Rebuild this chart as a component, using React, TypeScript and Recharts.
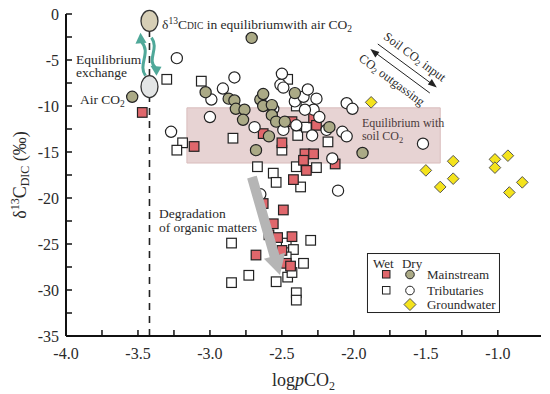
import React from 'react';
import { ScatterChart, Scatter, XAxis, YAxis, ReferenceArea, ReferenceLine, ReferenceDot } from 'recharts';

const FONT = '"Liberation Serif", "Times New Roman", serif';

// [logpCO2, δ13C_DIC]
const mainstreamWet: [number, number][] = [
  [-3.47, -10.7], [-3.11, -14.4], [-2.43, -11.7], [-2.63, -13.0], [-2.5, -14.0], [-2.28, -11.3],
  [-2.26, -12.1], [-2.34, -15.2], [-2.28, -15.2], [-2.35, -15.9], [-2.33, -17.0], [-2.42, -18.0],
  [-2.13, -16.3], [-2.63, -20.6], [-2.49, -21.3], [-2.56, -22.8], [-2.59, -24.0], [-2.53, -24.3],
  [-2.43, -24.2], [-2.5, -25.7], [-2.68, -26.2], [-2.47, -27.1], [-2.44, -27.4],
];
const tributariesWet: [number, number][] = [
  [-3.3, -7.1], [-3.19, -14.0], [-3.23, -14.8], [-3.06, -7.3], [-2.84, -13.5], [-2.46, -7.1],
  [-2.4, -10.0], [-2.39, -13.2], [-2.5, -14.8], [-2.33, -12.3], [-2.18, -13.9], [-2.67, -16.6],
  [-2.56, -17.3], [-2.54, -18.3], [-2.4, -16.6], [-2.26, -16.7], [-2.37, -18.8], [-2.85, -24.9],
  [-2.47, -24.9], [-2.42, -25.6], [-2.47, -26.4], [-2.35, -27.1], [-2.73, -28.4], [-2.85, -29.2],
  [-2.54, -29.1], [-2.46, -28.6], [-2.43, -28.1], [-2.4, -30.3], [-2.4, -31.1], [-2.3, -24.6],
];
const mainstreamDry: [number, number][] = [
  [-3.54, -9.0], [-2.71, -2.6], [-3.03, -8.5], [-2.87, -9.2], [-2.83, -9.4], [-2.82, -10.3],
  [-2.76, -10.4], [-2.77, -11.5], [-2.65, -9.3], [-2.63, -8.7], [-2.63, -10.0], [-2.57, -9.9],
  [-2.57, -11.0], [-2.54, -11.7], [-2.48, -11.7], [-2.59, -13.3], [-2.68, -14.8], [-2.41, -8.6],
  [-2.17, -12.3], [-1.94, -15.1],
];
const tributariesDry: [number, number][] = [
  [-3.23, -4.8], [-3.27, -12.8], [-2.83, -6.9], [-2.91, -8.1], [-2.99, -9.3], [-3.0, -11.2],
  [-2.69, -12.3], [-2.56, -10.3], [-2.5, -6.5], [-2.51, -7.7], [-2.49, -8.0], [-2.41, -9.5],
  [-2.35, -9.0], [-2.32, -8.2], [-2.26, -9.2], [-2.28, -10.4], [-2.34, -10.4], [-2.24, -11.2],
  [-2.4, -12.1], [-2.49, -12.6], [-2.29, -13.2], [-2.19, -12.6], [-2.08, -12.8], [-2.05, -13.3],
  [-2.05, -9.7], [-2.01, -10.3], [-2.15, -15.7], [-2.11, -19.2], [-2.65, -19.6], [-1.52, -14.1],
];
const groundwater: [number, number][] = [
  [-1.88, -9.6], [-1.5, -17.0], [-1.31, -16.0], [-1.31, -17.9], [-1.4, -18.8], [-1.02, -15.8],
  [-1.02, -16.7], [-0.93, -15.4], [-0.83, -18.3], [-0.92, -19.4],
];

const xTicks = [-4, -3.75, -3.5, -3.25, -3, -2.75, -2.5, -2.25, -2, -1.75, -1.5, -1.25, -1];
const yTicks = [-35, -32.5, -30, -27.5, -25, -22.5, -20, -17.5, -15, -12.5, -10, -7.5, -5, -2.5, 0];
const xDomain = [-4, -0.7];
const yDomain = [-35, 0];

const legendHeader = ['Wet', 'Dry'];
const legendRows = ['Mainstream', 'Tributaries', 'Groundwater'];

const airCO2 = -3.42;
const soilBox = { x1: -3.16, x2: -1.4, y1: -16.2, y2: -10.2 };

const COLORS = {
  red: '#e0676c',
  olive: '#abaa86',
  yellow: '#f4e31c',
  teal: '#4fa899',
  pink: '#e7d3d3',
  text: '#2a2a2a',
};

const toPts = (a: [number, number][]) => a.map(([x, y]) => ({ x, y }));

const squareShape = (fill: string) => (p: any) => (
  <rect x={p.cx - 4.8} y={p.cy - 4.8} width={9.6} height={9.6} fill={fill} stroke="#222" strokeWidth={1.2} />
);
const circleShape = (fill: string) => (p: any) => (
  <circle cx={p.cx} cy={p.cy} r={5.6} fill={fill} stroke="#222" strokeWidth={1.2} />
);
const diamondShape = (p: any) => (
  <polygon
    points={`${p.cx},${p.cy - 5.8} ${p.cx + 5.8},${p.cy} ${p.cx},${p.cy + 5.8} ${p.cx - 5.8},${p.cy}`}
    fill={COLORS.yellow}
    stroke="#555"
    strokeWidth={1}
  />
);

const XLabel = (props: any) => {
  const vb = props.viewBox || { x: 66, y: 336, width: 475, height: 58 };
  return (
    <text x={vb.x + vb.width / 2} y={vb.y + 50} textAnchor="middle" fontFamily={FONT} fontSize={18} fill={COLORS.text}>
      log<tspan fontStyle="italic">p</tspan>CO<tspan dy={4} fontSize={12}>2</tspan>
    </text>
  );
};

const YLabel = (props: any) => {
  const vb = props.viewBox || { x: 0, y: 14, width: 66, height: 322 };
  const cx = vb.x + 26;
  const cy = vb.y + vb.height / 2;
  return (
    <text x={cx} y={cy} transform={`rotate(-90, ${cx}, ${cy})`} textAnchor="middle" fontFamily={FONT} fontSize={18} fill={COLORS.text}>
      δ<tspan dy={-7} fontSize={12}>13</tspan><tspan dy={7}>C</tspan><tspan dy={3} fontSize={12}>DIC</tspan><tspan dy={-3}> (‰)</tspan>
    </text>
  );
};

// legend drawn at its top-left anchor
const legendShape = (p: any) => {
  const { cx, cy } = p;
  return (
    <g transform={`translate(${cx},${cy})`}>
      <rect x={0.5} y={0.5} width={132} height={59} fill="#fff" stroke="#222" strokeWidth={1} />
      <g fontFamily={FONT} fontSize={13} fill={COLORS.text}>
        <text x={6} y={14.5}>{legendHeader[0]}</text>
        <text x={35} y={14.5}>{legendHeader[1]}</text>
        <text x={60} y={25.5}>{legendRows[0]}</text>
        <text x={60} y={41.5}>{legendRows[1]}</text>
        <text x={60} y={55.5}>{legendRows[2]}</text>
      </g>
      <rect x={15.5} y={17.5} width={7.5} height={7.5} fill={COLORS.red} stroke="#222" strokeWidth={1} />
      <circle cx={43} cy={21.5} r={4.3} fill={COLORS.olive} stroke="#222" strokeWidth={1} />
      <rect x={15.5} y={33.5} width={7.5} height={7.5} fill="#fff" stroke="#222" strokeWidth={1} />
      <circle cx={43} cy={37.5} r={4.3} fill="#fff" stroke="#222" strokeWidth={1} />
      <polygon points="43,45.5 49,51.5 43,57.5 37,51.5" fill={COLORS.yellow} stroke="#555" strokeWidth={1} />
    </g>
  );
};

const ellipseShape = (fill: string, rx: number, ry: number) => (p: any) => (
  <ellipse cx={p.cx} cy={p.cy} rx={rx} ry={ry} fill={fill} stroke="#333" strokeWidth={1.3} />
);

const tealArrows = (p: any) => {
  const { cx, cy } = p;
  return (
    <g transform={`translate(${cx},${cy})`}>
      <path d="M -4 -11 C -12 -22, 2 -34, -8 -45" fill="none" stroke={COLORS.teal} strokeWidth={3} />
      <polygon points="-9,-54 -14,-43 -3,-44" fill={COLORS.teal} />
      <path d="M 2 -49 C 10 -38, -3 -27, 6 -19" fill="none" stroke={COLORS.teal} strokeWidth={3} />
      <polygon points="7,-11 1,-21 12,-20" fill={COLORS.teal} />
    </g>
  );
};

const topLabel = (p: any) => (
  <text x={p.cx} y={p.cy} fontFamily={FONT} fontSize={13.5} fill={COLORS.text}>
    δ<tspan dy={-5} fontSize={9.5}>13</tspan><tspan dy={5}>C</tspan><tspan fontSize={9.5}>DIC</tspan> in equilibriumwith air CO<tspan dy={3} fontSize={9.5}>2</tspan>
  </text>
);

const exchangeLabel = (p: any) => (
  <text x={p.cx} y={p.cy} fontFamily={FONT} fontSize={13.5} fill={COLORS.text}>
    <tspan x={p.cx}>Equilibrium</tspan>
    <tspan x={p.cx} dy={13.5}>exchange</tspan>
  </text>
);

const airLabel = (p: any) => (
  <text x={p.cx} y={p.cy} fontFamily={FONT} fontSize={13.5} fill={COLORS.text}>
    Air CO<tspan dy={3} fontSize={9.5}>2</tspan>
  </text>
);

const soilArrows = (p: any) => {
  const { cx, cy } = p;
  const ang = 36.5;
  return (
    <g transform={`translate(${cx},${cy})`}>
      <line x1={-26} y1={-24} x2={29} y2={16.6} stroke="#222" strokeWidth={1} />
      <polygon points="33,19.5 24,16.5 28,11" fill="#222" />
      <line x1={-29.5} y1={-16} x2={26} y2={25} stroke="#222" strokeWidth={1} />
      <polygon points="-33.5,-19 -24.5,-16 -28.5,-10.5" fill="#222" />
      <text x={11} y={-11} transform={`rotate(${ang}, 11, -11)`} textAnchor="middle" dominantBaseline="central" fontFamily={FONT} fontSize={12.5} fill={COLORS.text}>
        Soil CO<tspan dy={3} fontSize={8.5}>2</tspan><tspan dy={-3}> input</tspan>
      </text>
      <text x={-12} y={12} transform={`rotate(${ang}, -12, 12)`} textAnchor="middle" dominantBaseline="central" fontFamily={FONT} fontSize={12.5} fill={COLORS.text}>
        CO<tspan dy={3} fontSize={8.5}>2</tspan><tspan dy={-3}> outgassing</tspan>
      </text>
    </g>
  );
};

const soilLabel = (p: any) => (
  <text x={p.cx} y={p.cy} fontFamily={FONT} fontSize={12} fill="#4a3a3a">
    <tspan x={p.cx}>Equilibrium with</tspan>
    <tspan x={p.cx} dy={13}>soil CO</tspan><tspan dy={3} fontSize={8.5}>2</tspan>
  </text>
);

const degradLabel = (p: any) => (
  <text x={p.cx} y={p.cy} fontFamily={FONT} fontSize={13.5} fill={COLORS.text}>
    <tspan x={p.cx}>Degradation</tspan>
    <tspan x={p.cx} dy={14}>of organic matters</tspan>
  </text>
);

const grayArrow = (p: any) => {
  const { cx, cy } = p;
  const dx = 28, dy = 98;
  const L = Math.sqrt(dx * dx + dy * dy);
  const ux = dx / L, uy = dy / L;
  const nx = -uy, ny = ux;
  const hw = 5, hh = 11, hl = 20;
  const bx = cx + ux * (L - hl), by = cy + uy * (L - hl);
  const pts = [
    [cx + nx * hw, cy + ny * hw],
    [bx + nx * hw, by + ny * hw],
    [bx + nx * hh, by + ny * hh],
    [cx + dx, cy + dy],
    [bx - nx * hh, by - ny * hh],
    [bx - nx * hw, by - ny * hw],
    [cx - nx * hw, cy - ny * hw],
  ].map((q) => q.join(',')).join(' ');
  return <polygon points={pts} fill="#b5b5b5" />;
};

const fmtX = (v: number) => (Math.abs(v * 2 - Math.round(v * 2)) < 1e-6 ? v.toFixed(1) : '');
const fmtY = (v: number) => (Math.abs(v % 5) < 1e-6 ? String(v) : '');

const axisLine = { stroke: '#111', strokeWidth: 2 };
const tickLine = { stroke: '#111', strokeWidth: 1.5 };
const tickStyle = { fill: COLORS.text, fontSize: 16, fontFamily: FONT };

export default function App() {
  return (
    <div style={{ position: 'absolute', left: 0, top: 0, background: '#fff' }}>
      <ScatterChart width={550} height={394} margin={{ top: 14, right: 9, bottom: 0, left: 0 }}>
        <ReferenceArea
          x1={soilBox.x1}
          x2={soilBox.x2}
          y1={soilBox.y1}
          y2={soilBox.y2}
          fill={COLORS.pink}
          fillOpacity={1}
          stroke="#d9bdbd"
          strokeWidth={1}
        />
        <ReferenceLine x={airCO2} stroke="#222" strokeWidth={1.6} strokeDasharray="7 6" />
        <XAxis
          type="number"
          dataKey="x"
          domain={xDomain}
          ticks={xTicks}
          interval={0}
          tickFormatter={fmtX}
          tickSize={-6}
          tickMargin={18}
          axisLine={axisLine}
          tickLine={tickLine}
          tick={tickStyle}
          height={58}
          allowDataOverflow
          label={<XLabel />}
        />
        <YAxis
          type="number"
          dataKey="y"
          domain={yDomain}
          ticks={yTicks}
          interval={0}
          tickFormatter={fmtY}
          tickSize={-6}
          tickMargin={13}
          axisLine={axisLine}
          tickLine={tickLine}
          tick={tickStyle}
          width={66}
          allowDataOverflow
          label={<YLabel />}
        />
        <XAxis xAxisId="top" orientation="top" type="number" domain={xDomain} tick={false} tickLine={false} axisLine={axisLine} height={0} />
        <YAxis yAxisId="right" orientation="right" type="number" domain={yDomain} tick={false} tickLine={false} axisLine={axisLine} width={0} />

        <Scatter name="Tributaries (wet)" data={toPts(tributariesWet)} shape={squareShape('#fff')} isAnimationActive={false} />
        <Scatter name="Mainstream (wet)" data={toPts(mainstreamWet)} shape={squareShape(COLORS.red)} isAnimationActive={false} />
        <Scatter name="Tributaries (dry)" data={toPts(tributariesDry)} shape={circleShape('#fff')} isAnimationActive={false} />
        <Scatter name="Mainstream (dry)" data={toPts(mainstreamDry)} shape={circleShape(COLORS.olive)} isAnimationActive={false} />
        <Scatter name="Groundwater" data={toPts(groundwater)} shape={diamondShape} isAnimationActive={false} />

        <ReferenceDot x={-2.708} y={-17.72} r={0} shape={grayArrow} />
        <ReferenceDot x={airCO2} y={-7.9} r={0} shape={tealArrows} />
        <ReferenceDot x={airCO2} y={-0.75} r={0} shape={ellipseShape('#d7cfb6', 8.5, 10.5)} />
        <ReferenceDot x={airCO2} y={-7.9} r={0} shape={ellipseShape('#e3e5e5', 8.5, 11)} />
        <ReferenceDot x={-3.333} y={-1.63} r={0} shape={topLabel} />
        <ReferenceDot x={-3.931} y={-5.4} r={0} shape={exchangeLabel} />
        <ReferenceDot x={-3.903} y={-9.78} r={0} shape={airLabel} />
        <ReferenceDot x={-1.653} y={-5.87} r={0} shape={soilArrows} />
        <ReferenceDot x={-1.944} y={-12.23} r={0} shape={soilLabel} />
        <ReferenceDot x={-3.354} y={-22.17} r={0} shape={degradLabel} />
        <ReferenceDot x={-1.909} y={-25.98} r={0} shape={legendShape} />
      </ScatterChart>
    </div>
  );
}
